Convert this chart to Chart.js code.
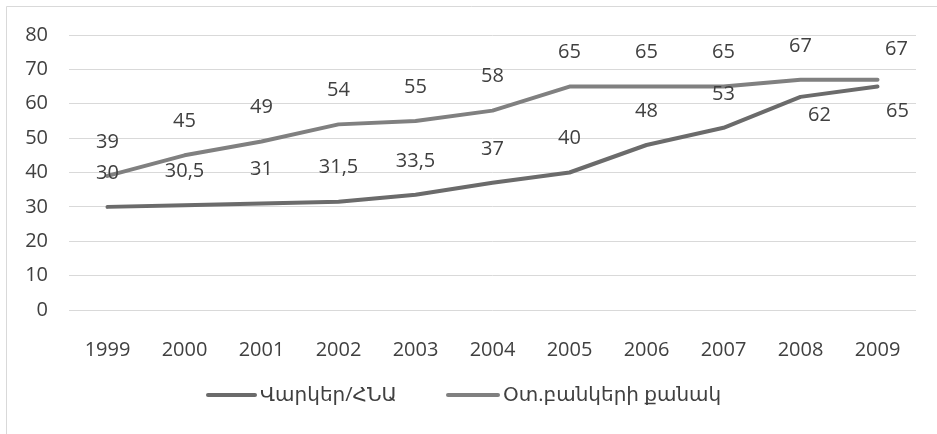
<!DOCTYPE html>
<html>
<head>
<meta charset="utf-8">
<script src="https://cdn.jsdelivr.net/npm/chart.js@4/dist/chart.umd.min.js"></script>
<style>
  html, body { margin: 0; padding: 0; background: #ffffff; }
  #wrap { position: relative; width: 937px; height: 434px; }
</style>
</head>
<body>
<div id="wrap"><canvas id="c" width="937" height="434"></canvas></div>
<script>
const categories = ['1999', '2000', '2001', '2002', '2003', '2004', '2005', '2006', '2007', '2008', '2009'];
const loansToGdp = [30, 30.5, 31, 31.5, 33.5, 37, 40, 48, 53, 62, 65];
const foreignBanks = [39, 45, 49, 54, 55, 58, 65, 65, 65, 67, 67];
const seriesNames = ['Վարկեր/ՀՆԱ', 'Օտ.բանկերի քանակ'];
const yTicks = [0, 10, 20, 30, 40, 50, 60, 70, 80];

const FONT = "'Open Sans', 'DejaVu Sans', sans-serif";
const TEXT = '#404040';

// label placement tweaks (pixel offsets relative to each point)
const labelOffsets = {
  0: { 9: [19, 18], 10: [20, 25] },
  1: { 9: [0, -33], 10: [19, -30] }
};

const frame = {
  id: 'frame',
  beforeDraw(chart) {
    const ctx = chart.ctx;
    ctx.save();
    ctx.fillStyle = '#ffffff';
    ctx.fillRect(0, 0, chart.width, chart.height);
    ctx.strokeStyle = '#d9d9d9';
    ctx.lineWidth = 1;
    ctx.beginPath();
    ctx.moveTo(6.5, chart.height);
    ctx.lineTo(6.5, 6.5);
    ctx.lineTo(chart.width, 6.5);
    ctx.stroke();
    ctx.restore();
  }
};

const dataLabels = {
  id: 'dataLabels',
  afterDatasetsDraw(chart) {
    const ctx = chart.ctx;
    ctx.save();
    ctx.font = '20px ' + FONT;
    ctx.fillStyle = TEXT;
    ctx.textAlign = 'center';
    ctx.textBaseline = 'middle';
    chart.data.datasets.forEach((ds, di) => {
      const meta = chart.getDatasetMeta(di);
      meta.data.forEach((pt, i) => {
        const off = (labelOffsets[di] && labelOffsets[di][i]) || [0, -34];
        const txt = String(ds.data[i]).replace('.', ',');
        ctx.fillText(txt, pt.x + off[0], pt.y + off[1]);
      });
    });
    ctx.restore();
  }
};

const legendPos = [
  { x1: 208, x2: 255, tx: 260 },
  { x1: 448, x2: 498, tx: 503 }
];
const customLegend = {
  id: 'customLegend',
  afterDraw(chart) {
    const ctx = chart.ctx;
    const y = 395;
    ctx.save();
    chart.data.datasets.forEach((ds, di) => {
      const p = legendPos[di];
      ctx.strokeStyle = ds.borderColor;
      ctx.lineWidth = ds.borderWidth;
      ctx.lineCap = 'round';
      ctx.beginPath();
      ctx.moveTo(p.x1, y);
      ctx.lineTo(p.x2, y);
      ctx.stroke();
      ctx.font = '20px ' + FONT;
      ctx.fillStyle = TEXT;
      ctx.textAlign = 'left';
      ctx.textBaseline = 'middle';
      ctx.fillText(ds.label, p.tx, y);
    });
    ctx.restore();
  }
};

new Chart(document.getElementById('c'), {
  type: 'line',
  data: {
    labels: categories,
    datasets: [
      {
        label: seriesNames[0],
        data: loansToGdp,
        borderColor: '#6b6b6b',
        borderWidth: 4,
        pointRadius: 0,
        tension: 0,
        borderCapStyle: 'round',
        borderJoinStyle: 'round',
        fill: false
      },
      {
        label: seriesNames[1],
        data: foreignBanks,
        borderColor: '#808080',
        borderWidth: 4,
        pointRadius: 0,
        tension: 0,
        borderCapStyle: 'round',
        borderJoinStyle: 'round',
        fill: false
      }
    ]
  },
  options: {
    responsive: false,
    animation: false,
    events: [],
    layout: { padding: { left: 0, right: 21, top: 35, bottom: 0 } },
    plugins: {
      legend: { display: false },
      tooltip: { enabled: false },
      title: { display: false }
    },
    scales: {
      x: {
        offset: true,
        grid: { display: false, drawTicks: false },
        border: { display: false },
        ticks: {
          color: TEXT,
          font: { family: FONT, size: 20 },
          padding: 28,
          maxRotation: 0,
          autoSkip: false
        },
        afterFit(scale) { scale.height = 124; }
      },
      y: {
        min: 0,
        max: 80,
        afterBuildTicks(scale) { scale.ticks = yTicks.map(v => ({ value: v })); },
        grid: { color: '#d9d9d9', lineWidth: 1, drawTicks: false },
        border: { display: false },
        ticks: {
          color: TEXT,
          font: { family: FONT, size: 20 },
          padding: 21
        },
        afterFit(scale) { scale.width = 69; }
      }
    }
  },
  plugins: [frame, dataLabels, customLegend]
});
</script>
</body>
</html>
